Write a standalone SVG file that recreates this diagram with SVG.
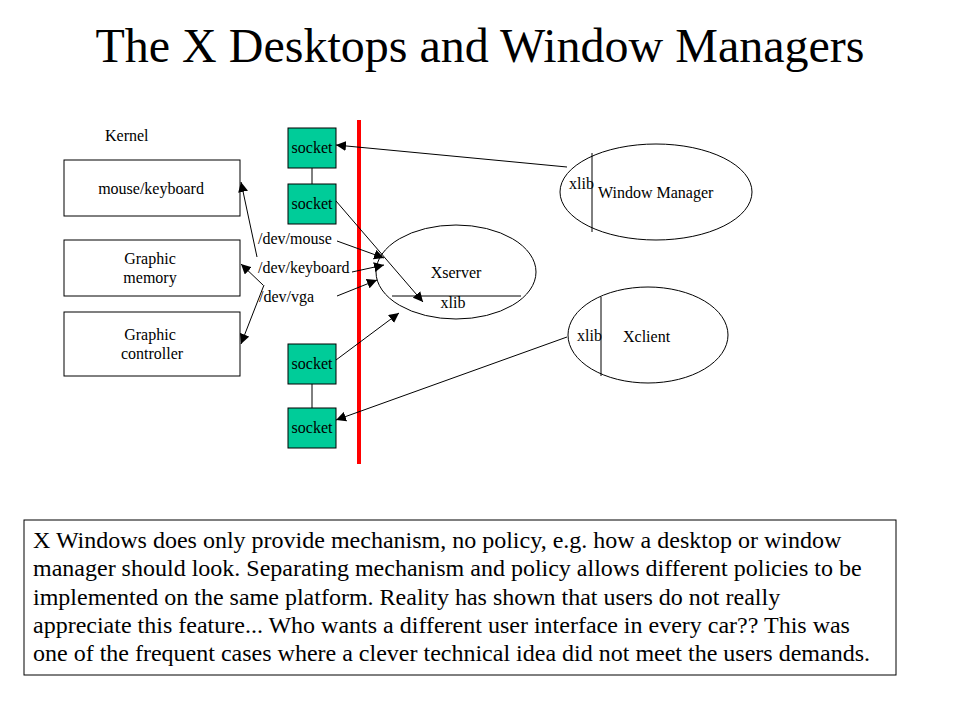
<svg xmlns="http://www.w3.org/2000/svg" width="960" height="720" viewBox="0 0 960 720">
<defs>
<style>
.t{font-size:16px}
.n{font-size:24px}
.box{fill:#fff;stroke:#000;stroke-width:1}
.sock{fill:#00CC99;stroke:#000;stroke-width:1}
.ell{fill:#fff;stroke:#000;stroke-width:1}
.ln{stroke:#000;stroke-width:1;fill:none}
.ar{stroke:#000;stroke-width:1;fill:none;marker-end:url(#ah)}
</style>
<marker id="ah" viewBox="0 0 10 10" refX="10" refY="5" markerWidth="10" markerHeight="10" markerUnits="userSpaceOnUse" orient="auto">
<path d="M0,0 L10,5 L0,10 z" fill="#000"/>
</marker>
</defs>
<rect width="960" height="720" fill="#fff"/>
<g font-family="Liberation Serif, Times New Roman, serif" fill="#000">
<text x="480" y="62" font-size="48" text-anchor="middle">The X Desktops and Window Managers</text>

<text id="kernel" class="t" x="105" y="141">Kernel</text>

<g id="mousekbd"><rect class="box" x="64" y="160" width="176" height="56"/><text class="t" x="151" y="194" text-anchor="middle">mouse/keyboard</text></g>
<g id="gmem"><rect class="box" x="64" y="240" width="176" height="56"/><text class="t" x="150" y="264" text-anchor="middle">Graphic</text><text class="t" x="150" y="283" text-anchor="middle">memory</text></g>
<g id="gctrl"><rect class="box" x="64" y="312" width="176" height="64"/><text class="t" x="150" y="340" text-anchor="middle">Graphic</text><text class="t" x="152" y="359" text-anchor="middle">controller</text></g>

<g id="sockets">
<line class="ln" x1="312" y1="168" x2="312" y2="184"/>
<line class="ln" x1="312" y1="384" x2="312" y2="408"/>
</g>
<g id="socket1"><rect class="sock" x="288" y="128" width="48" height="40"/><text class="t" x="312" y="153" text-anchor="middle">socket</text></g>
<g id="socket2"><rect class="sock" x="288" y="184" width="48" height="40"/><text class="t" x="312" y="209" text-anchor="middle">socket</text></g>
<g id="socket3"><rect class="sock" x="288" y="344" width="48" height="40"/><text class="t" x="312" y="369" text-anchor="middle">socket</text></g>
<g id="socket4"><rect class="sock" x="288" y="408" width="48" height="40"/><text class="t" x="312" y="433" text-anchor="middle">socket</text></g>

<line id="divider" x1="359" y1="120" x2="359" y2="464" stroke="#FF0000" stroke-width="4"/>

<g id="xserver"><ellipse class="ell" cx="456" cy="272" rx="80" ry="47"/><line class="ln" x1="392" y1="296" x2="521" y2="296"/><text class="t" x="456" y="278" text-anchor="middle">Xserver</text><text class="t" x="453" y="308" text-anchor="middle">xlib</text></g>

<g id="wm"><ellipse class="ell" cx="656" cy="192" rx="96" ry="48"/><line class="ln" x1="592" y1="153" x2="592" y2="232"/><text class="t" x="569" y="189">xlib</text><text class="t" x="598" y="198">Window Manager</text></g>

<g id="xclient"><ellipse class="ell" cx="648" cy="335" rx="80" ry="48"/><line class="ln" x1="601" y1="297" x2="601" y2="376"/><text class="t" x="577" y="341">xlib</text><text class="t" x="623" y="342">Xclient</text></g>

<g id="devlabels">
<text class="t" x="258" y="244">/dev/mouse</text>
<text class="t" x="258" y="273">/dev/keyboard</text>
<text class="t" x="259" y="302">/dev/vga</text>
</g>

<g id="connectors">
<line class="ar" x1="567" y1="167" x2="336" y2="145"/>
<line class="ar" x1="336" y1="201" x2="423" y2="302"/>
<line class="ar" x1="337" y1="241" x2="384" y2="258"/>
<line class="ar" x1="352" y1="272" x2="384" y2="265"/>
<line class="ar" x1="337" y1="296" x2="377" y2="280"/>
<line class="ar" x1="336" y1="360" x2="399" y2="313"/>
<line class="ar" x1="567" y1="337" x2="336" y2="420"/>
<line class="ar" x1="257" y1="257" x2="241" y2="182"/>
<line class="ar" x1="263" y1="285" x2="241" y2="264"/>
<line class="ar" x1="264" y1="285" x2="241" y2="344"/>
</g>

<g id="note"><rect class="box" x="24" y="520" width="872" height="155"/>
<text class="n" x="33" y="548">X Windows does only provide mechanism, no policy, e.g. how a desktop or window</text>
<text class="n" x="33" y="576">manager should look. Separating mechanism and policy allows different policies to be</text>
<text class="n" x="33" y="605">implemented on the same platform. Reality has shown that users do not really</text>
<text class="n" x="33" y="633">appreciate this feature... Who wants a different user interface in every car?? This was</text>
<text class="n" x="33" y="661">one of the frequent cases where a clever technical idea did not meet the users demands.</text>
</g>
</g>
</svg>
